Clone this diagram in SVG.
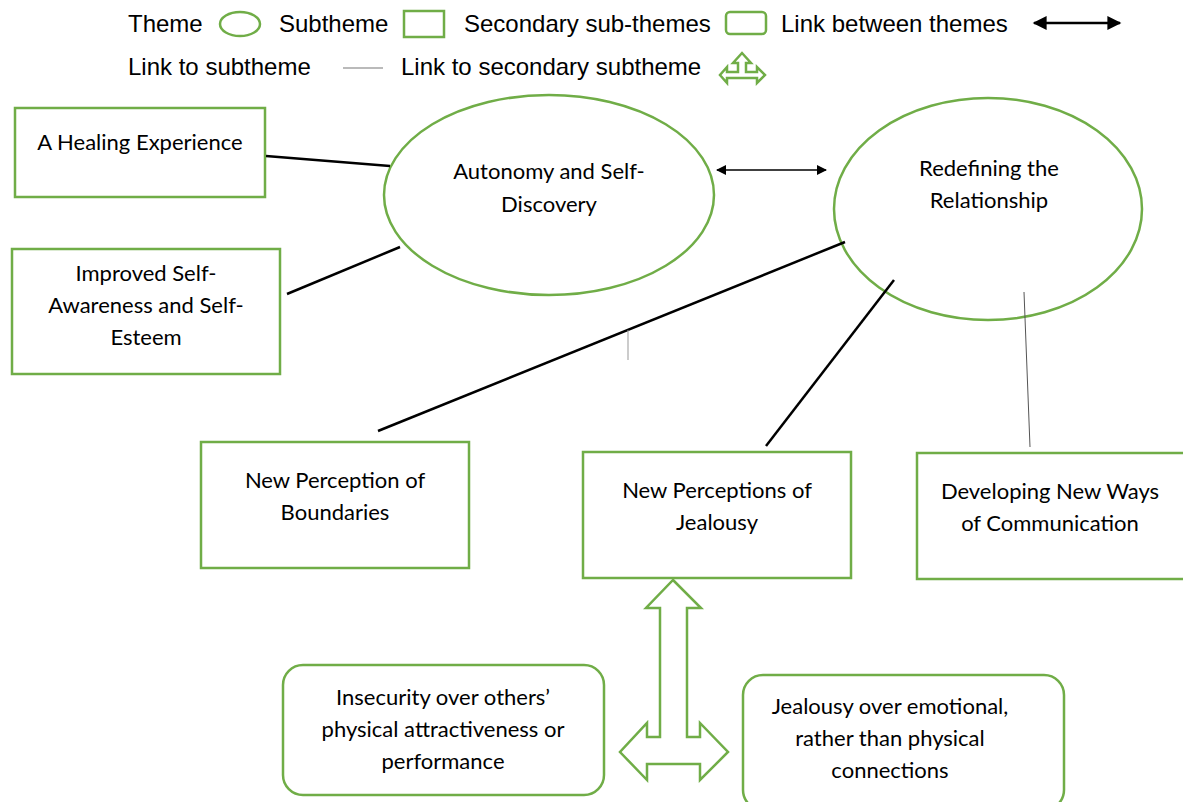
<svg xmlns="http://www.w3.org/2000/svg" width="1183" height="802" viewBox="0 0 1183 802">
<style>
.lg{font-family:"Liberation Sans",Arial,sans-serif;font-size:24px;fill:#000}
.t{font-family:Lato,"Open Sans",sans-serif;font-size:22px;fill:#000;text-anchor:middle}
.g{fill:#fff;stroke:#70AD47;stroke-width:2.5}
.gi{fill:none;stroke:#70AD47;stroke-width:2.5}
.ln{stroke:#000;stroke-width:2.5;fill:none}
.thin{stroke:#555;stroke-width:1;fill:none}
</style>
<defs>
<marker id="ah" viewBox="0 0 10 10" refX="9" refY="5" markerWidth="10" markerHeight="10" markerUnits="userSpaceOnUse" orient="auto-start-reverse">
<path d="M0,0 L10,5 L0,10 z" fill="#000"/>
</marker>
<marker id="ahL" viewBox="0 0 10 10" refX="9" refY="5" markerWidth="16" markerHeight="14" markerUnits="userSpaceOnUse" orient="auto-start-reverse">
<path d="M0,0 L10,5 L0,10 z" fill="#000"/>
</marker>
</defs>
<rect width="1183" height="802" fill="#fff"/>

<g id="legend">
<text class="lg" x="128" y="32">Theme</text>
<ellipse class="gi" cx="240" cy="24" rx="20" ry="12"/>
<text class="lg" x="279" y="32">Subtheme</text>
<rect class="gi" x="404" y="11" width="40" height="26"/>
<text class="lg" x="464" y="32">Secondary sub-themes</text>
<rect class="gi" x="726" y="12" width="40" height="22" rx="4"/>
<text class="lg" x="781" y="32">Link between themes</text>
<line x1="1034" y1="23" x2="1120" y2="23" stroke="#000" stroke-width="2.5" marker-start="url(#ahL)" marker-end="url(#ahL)"/>
<text class="lg" x="128" y="75">Link to subtheme</text>
<line x1="343" y1="68" x2="383" y2="68" stroke="#777" stroke-width="1.2"/>
<text class="lg" x="401" y="75">Link to secondary subtheme</text>
<polygon class="gi" stroke-width="2" points="742,53 751,63 746,63 746,72 757,72 757,67 765,75 757,83 757,78 727,78 727,83 720,75 727,67 727,72 738,72 738,63 733,63"/>
</g>

<g id="healing">
<rect class="g" x="15" y="108" width="250" height="89"/>
<text class="t" x="140" y="150">A Healing Experience</text>
</g>
<g id="improved">
<rect class="g" x="12" y="249" width="268" height="125"/>
<text class="t" x="146" y="281">Improved Self-</text>
<text class="t" x="146" y="313">Awareness and Self-</text>
<text class="t" x="146" y="345">Esteem</text>
</g>
<g id="autonomy">
<ellipse class="g" cx="549" cy="195" rx="165" ry="100"/>
<text class="t" x="549" y="179">Autonomy and Self-</text>
<text class="t" x="549" y="212">Discovery</text>
</g>
<g id="redefining">
<ellipse class="g" cx="988" cy="209" rx="154" ry="111"/>
<text class="t" x="989" y="176">Redefining the</text>
<text class="t" x="989" y="208">Relationship</text>
</g>
<g id="boundaries">
<rect class="g" x="201" y="442" width="268" height="126"/>
<text class="t" x="335" y="488">New Perception of</text>
<text class="t" x="335" y="520">Boundaries</text>
</g>
<g id="jealousy">
<rect class="g" x="583" y="452" width="268" height="126"/>
<text class="t" x="717" y="498">New Perceptions of</text>
<text class="t" x="717" y="530">Jealousy</text>
</g>
<g id="communication">
<rect class="g" x="917" y="453" width="275" height="126"/>
<text class="t" x="1050" y="499">Developing New Ways</text>
<text class="t" x="1050" y="531">of Communication</text>
</g>
<g id="insecurity">
<rect class="g" x="283" y="665" width="321" height="130" rx="20"/>
<text class="t" x="443" y="705">Insecurity over others’</text>
<text class="t" x="443" y="737">physical attractiveness or</text>
<text class="t" x="443" y="769">performance</text>
</g>
<g id="emotional">
<rect class="g" x="743" y="675" width="321" height="135" rx="20"/>
<text class="t" x="890" y="714">Jealousy over emotional,</text>
<text class="t" x="890" y="746">rather than physical</text>
<text class="t" x="890" y="778">connections</text>
</g>

<g id="connectors">
<line class="ln" x1="266" y1="156" x2="390" y2="166"/>
<line class="ln" x1="287" y1="294" x2="400" y2="247"/>
<line class="ln" x1="845" y1="242" x2="378" y2="431"/>
<line x1="628" y1="330" x2="628" y2="360" stroke="#999" stroke-width="1"/>
<line class="ln" x1="894" y1="280" x2="766" y2="446"/>
<line class="thin" x1="1024" y1="292" x2="1030" y2="447"/>
<line x1="717" y1="170" x2="826" y2="170" stroke="#000" stroke-width="1.3" marker-start="url(#ah)" marker-end="url(#ah)"/>
<polygon id="hollow-arrow" class="g" points="673,580 701,608 687,608 687,737 700,737 700,723 728,752 700,780 700,764 647,764 647,780 620,752 647,723 647,737 660,737 660,608 646,608"/>
</g>
</svg>
